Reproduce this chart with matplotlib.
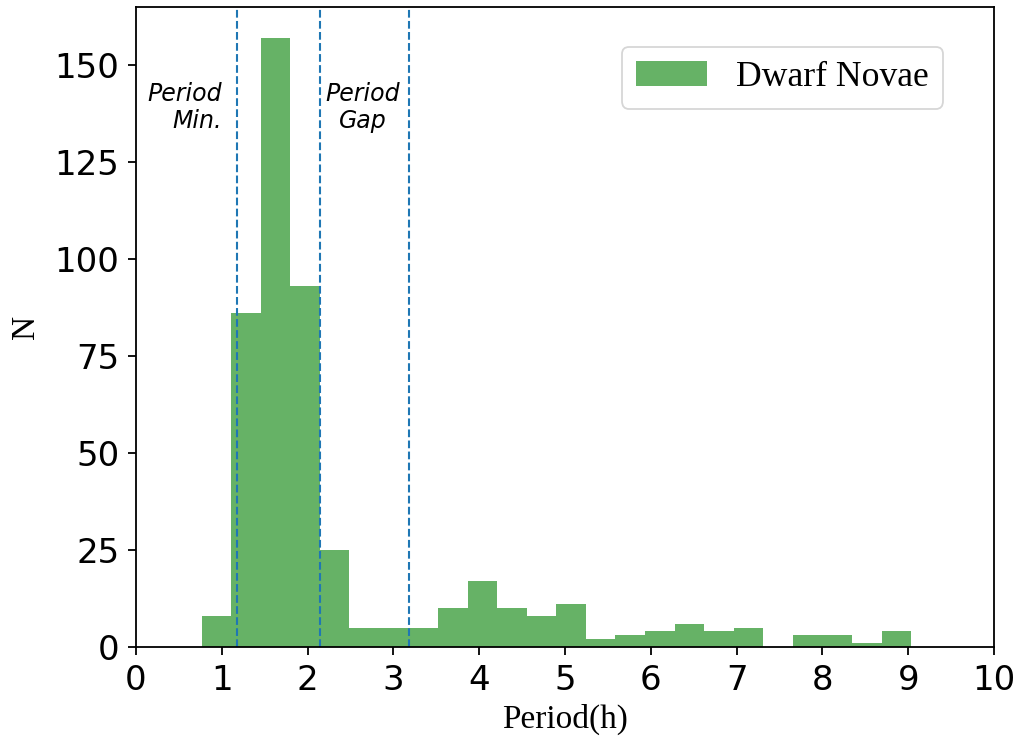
import numpy as np
import matplotlib
matplotlib.use("Agg")
import matplotlib.pyplot as plt

# Histogram of dwarf nova orbital periods (hours)
bin_start = 0.764
bin_stop = 9.034
n_bins = 24
counts = [8, 86, 157, 93, 25, 5, 5, 5, 10, 17, 10, 8,
          11, 2, 3, 4, 6, 4, 5, 0, 3, 3, 1, 4]

# Reference periods: period minimum and the period gap boundaries
period_min = 1.18
gap_lo, gap_hi = 2.15, 3.18

x_ticks = list(range(0, 11))
y_ticks = [0, 25, 50, 75, 100, 125, 150]

serif = ["Times New Roman", "Liberation Serif", "DejaVu Serif"]

edges = np.linspace(bin_start, bin_stop, n_bins + 1)

fig = plt.figure(figsize=(10.19, 7.38), dpi=100)
ax = fig.add_axes([136 / 1019, 1 - 647 / 738, (994 - 136) / 1019, (647 - 7) / 738])

ax.hist(edges[:-1], bins=edges, weights=counts, color="green", alpha=0.6,
        label="Dwarf Novae")

for xv in (period_min, gap_lo, gap_hi):
    ax.axvline(xv, color="#1f77b4", linestyle="--", linewidth=1.5)

ax.text(1.0, 139, "Period\nMin.", ha="right", va="center", fontsize=17,
        style="italic", linespacing=1.15)
ax.text((gap_lo + gap_hi) / 2 - 0.02, 139, "Period\nGap", ha="center", va="center",
        fontsize=17, style="italic", linespacing=1.15)

ax.set_xlim(0, 10)
ax.set_ylim(0, 165)
ax.set_xticks(x_ticks)
ax.set_yticks(y_ticks)
ax.tick_params(axis="both", labelsize=24.5, length=6, width=1.3, pad=6)
for sp in ax.spines.values():
    sp.set_linewidth(1.3)

ax.set_xlabel("Period(h)", fontsize=24, family=serif, labelpad=5)
ax.set_ylabel("N", fontsize=24, family=serif, labelpad=10)

leg = ax.legend(loc="upper right", bbox_to_anchor=(0.9406, 0.9375),
                borderaxespad=0, prop={"family": serif, "size": 25.7})
leg.get_frame().set_linewidth(1.3)

fig.savefig("out.png", dpi=100)
